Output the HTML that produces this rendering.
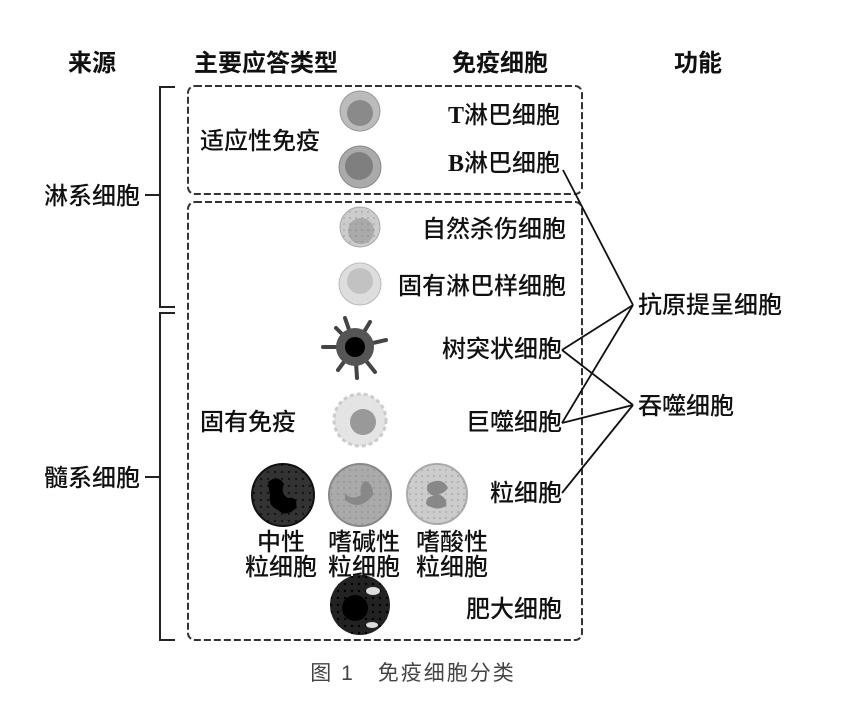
<!DOCTYPE html>
<html><head><meta charset="utf-8"><style>
html,body{margin:0;padding:0;background:#fff;}
svg{display:block;}
text{font-family:"Liberation Sans","Noto Sans CJK SC",sans-serif;fill:#111;}
.h{font-size:24px;font-weight:bold;}
.t{font-size:24px;font-weight:500;}
</style></head><body>
<svg width="843" height="707" viewBox="0 0 843 707" xmlns="http://www.w3.org/2000/svg">
<defs>
<pattern id="dots" width="6" height="6" patternUnits="userSpaceOnUse"><circle cx="2" cy="2" r="0.9" fill="#777"/></pattern>
<pattern id="dd" width="7" height="7" patternUnits="userSpaceOnUse"><circle cx="2" cy="3" r="1.2" fill="#000"/></pattern>
</defs>
<text class="h" x="92" y="71" text-anchor="middle">来源</text>
<text class="h" x="266" y="71" text-anchor="middle">主要应答类型</text>
<text class="h" x="500" y="71" text-anchor="middle">免疫细胞</text>
<text class="h" x="698" y="71" text-anchor="middle">功能</text>

<rect x="188" y="86" width="394" height="108" rx="7" fill="none" stroke="#333" stroke-width="2" stroke-dasharray="7,3"/>
<rect x="188" y="202" width="394" height="438" rx="7" fill="none" stroke="#333" stroke-width="2" stroke-dasharray="7,3"/>

<path d="M175 87 H160 V307 H175 M160 195 H145" fill="none" stroke="#222" stroke-width="2"/>
<path d="M175 313 H160 V640 H175 M160 477 H145" fill="none" stroke="#222" stroke-width="2"/>
<text class="t" x="44" y="204">淋系细胞</text>
<text class="t" x="44" y="486">髓系细胞</text>

<text class="t" x="200" y="149">适应性免疫</text>
<text class="t" x="200" y="430">固有免疫</text>

<circle cx="360" cy="111" r="20" fill="#bbb" stroke="#999"/><circle cx="360" cy="113" r="13" fill="#8a8a8a"/>
<circle cx="360" cy="167" r="21" fill="#aaa" stroke="#888"/><circle cx="359" cy="166" r="14" fill="#7f7f7f"/>
<circle cx="360" cy="227" r="20" fill="#ccc" stroke="#aaa"/><circle cx="361" cy="231" r="13" fill="#aaa"/><circle cx="360" cy="227" r="20" fill="url(#dots)" opacity="0.5"/>
<circle cx="360" cy="284" r="21" fill="#ddd" stroke="#bbb"/><circle cx="360" cy="281" r="13" fill="#c2c2c2"/>
<g stroke="#444" stroke-width="4" stroke-linecap="round" fill="none">
<path d="M355 347 L323 347"/><path d="M355 347 L345 318"/><path d="M355 347 L370 322"/><path d="M355 347 L336 328"/>
<path d="M355 347 L338 370"/><path d="M355 347 L357 378"/><path d="M355 347 L375 372"/><path d="M355 347 L386 340"/>
</g>
<circle cx="355" cy="347" r="19" fill="#555"/><circle cx="355" cy="347" r="10" fill="#000"/>
<circle cx="360" cy="420" r="26" fill="#e4e4e4" stroke="#ccc" stroke-width="3" stroke-dasharray="4,3"/><circle cx="363" cy="422" r="13" fill="#999"/>
<circle cx="283" cy="495" r="31" fill="#333" stroke="#111" stroke-width="2"/><circle cx="283" cy="495" r="31" fill="url(#dd)" opacity="0.6"/>
<path d="M268 482 q10 -8 16 2 q-4 10 4 14 q10 -2 8 10 q-10 10 -18 2 q-10 -4 -8 -14 z" fill="#000"/>
<circle cx="360" cy="495" r="31" fill="#aaa" stroke="#888" stroke-width="2"/><circle cx="360" cy="495" r="31" fill="url(#dots)" opacity="0.5"/>
<path d="M345 500 q15 12 28 -5 q0 -12 -8 -14 q-6 4 -4 14 q-10 6 -16 -2 z" fill="#888"/>
<circle cx="437" cy="494" r="30" fill="#ccc" stroke="#aaa" stroke-width="2"/><circle cx="437" cy="494" r="30" fill="url(#dots)" opacity="0.5"/>
<path d="M428 484 q14 -8 20 4 q-4 6 -10 6 q10 4 8 12 q-10 6 -20 -2 q0 -8 8 -8 q-10 -4 -6 -12 z" fill="#888"/>
<circle cx="360" cy="605" r="30" fill="#222"/><circle cx="360" cy="605" r="30" fill="url(#dd)"/>
<circle cx="355" cy="608" r="13" fill="#000"/>
<ellipse cx="373" cy="591" rx="7" ry="4" fill="#ddd"/><ellipse cx="372" cy="625" rx="6" ry="3" fill="#ddd"/>

<text class="t" x="560" y="123" text-anchor="end"><tspan font-weight="bold" font-family="Liberation Serif">T</tspan>淋巴细胞</text>
<text class="t" x="560" y="171" text-anchor="end"><tspan font-weight="bold" font-family="Liberation Serif">B</tspan>淋巴细胞</text>
<text class="t" x="566" y="237" text-anchor="end">自然杀伤细胞</text>
<text class="t" x="566" y="294" text-anchor="end">固有淋巴样细胞</text>
<text class="t" x="562" y="357" text-anchor="end">树突状细胞</text>
<text class="t" x="562" y="430" text-anchor="end">巨噬细胞</text>
<text class="t" x="562" y="501" text-anchor="end">粒细胞</text>
<text class="t" x="562" y="617" text-anchor="end">肥大细胞</text>
<text class="t" x="281" y="550" text-anchor="middle">中性</text>
<text class="t" x="281" y="575" text-anchor="middle">粒细胞</text>
<text class="t" x="364" y="550" text-anchor="middle">嗜碱性</text>
<text class="t" x="364" y="575" text-anchor="middle">粒细胞</text>
<text class="t" x="452" y="550" text-anchor="middle">嗜酸性</text>
<text class="t" x="452" y="575" text-anchor="middle">粒细胞</text>

<g stroke="#111" stroke-width="1.8" fill="none">
<path d="M563 170 L633 305"/>
<path d="M562 350 L633 305"/>
<path d="M562 350 L633 405"/>
<path d="M562 423 L633 305"/>
<path d="M562 423 L633 405"/>
<path d="M562 493 L633 405"/>
</g>
<text class="t" x="638" y="313">抗原提呈细胞</text>
<text class="t" x="638" y="414">吞噬细胞</text>

<text x="413" y="680" text-anchor="middle" style="font-size:21px;fill:#444;letter-spacing:2px">图 1　免疫细胞分类</text>
</svg>
</body></html>
